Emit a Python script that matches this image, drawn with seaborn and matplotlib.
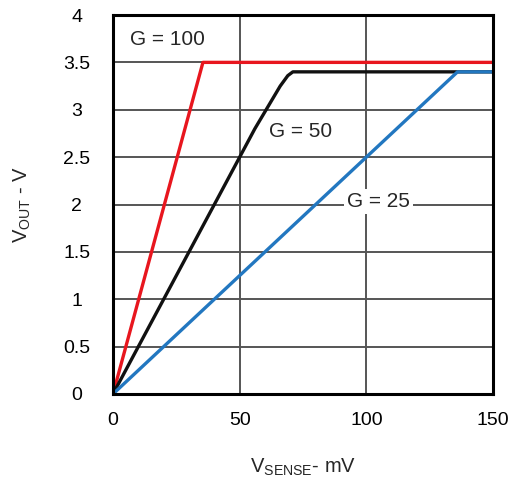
import numpy as np
import pandas as pd
import matplotlib
matplotlib.use("Agg")
import matplotlib.pyplot as plt
import seaborn as sns

# values (V_SENSE in mV, V_OUT in V)
g100_x = [0, 35.5, 150]
g100_y = [0, 3.5, 3.5]
g50_x = [0, 56, 62, 66, 69, 71, 150]
g50_y = [0, 2.8, 3.07, 3.25, 3.36, 3.4, 3.4]
g25_x = [0, 136, 150]
g25_y = [0, 3.4, 3.4]

x_ticks = [0, 50, 100, 150]
y_ticks = [0, 0.5, 1, 1.5, 2, 2.5, 3, 3.5, 4]
y_tick_labels = ["0", "0.5", "1", "1.5", "2", "2.5", "3", "3.5", "4"]

sns.set_style("white")
plt.rcParams['font.family'] = ['Liberation Sans', 'DejaVu Sans']
plt.rcParams['mathtext.default'] = 'regular'

df = pd.concat([
    pd.DataFrame({'vsense': g100_x, 'vout': g100_y, 'gain': 'G = 100'}),
    pd.DataFrame({'vsense': g50_x, 'vout': g50_y, 'gain': 'G = 50'}),
    pd.DataFrame({'vsense': g25_x, 'vout': g25_y, 'gain': 'G = 25'}),
])
palette = {'G = 100': '#e8161e', 'G = 50': '#111111', 'G = 25': '#2277c0'}

fig = plt.figure(figsize=(5.08, 4.8), dpi=100)
ax = fig.add_axes([113 / 508, 1 - 394 / 480, 380 / 508, 379 / 480])

sns.lineplot(data=df, x='vsense', y='vout', hue='gain', palette=palette,
             sort=False, estimator=None, linewidth=2.4, legend=False, ax=ax,
             zorder=3)

ax.set_xlim(0, 150)
ax.set_ylim(0, 4)
ax.set_xticks(x_ticks)
ax.set_yticks(y_ticks)
ax.set_yticklabels(y_tick_labels)
ax.tick_params(axis='both', length=0, labelsize=14, colors='black')
ax.tick_params(axis='x', pad=13)
ax.tick_params(axis='y', pad=26)
for lbl in ax.get_yticklabels():
    lbl.set_horizontalalignment('center')

ax.grid(True, color='#555555', linewidth=1.4)
for s in ax.spines.values():
    s.set_color('black')
    s.set_linewidth(2.2)
    s.set_zorder(4)

ax.set_xlabel('$V_{SENSE}$- mV', fontsize=14.5, labelpad=20)
ax.set_ylabel('$V_{OUT}$ - V', fontsize=14.5, labelpad=22)

ax.text(21.3, 3.74, 'G = 100', fontsize=15, ha='center', va='center')
ax.text(74.2, 2.77, 'G = 50', fontsize=15, ha='center', va='center')
ax.text(104.8, 2.03, 'G = 25', fontsize=15, ha='center', va='center',
        bbox=dict(facecolor='white', edgecolor='none', pad=2), zorder=5)

fig.savefig('out.png', dpi=100)
